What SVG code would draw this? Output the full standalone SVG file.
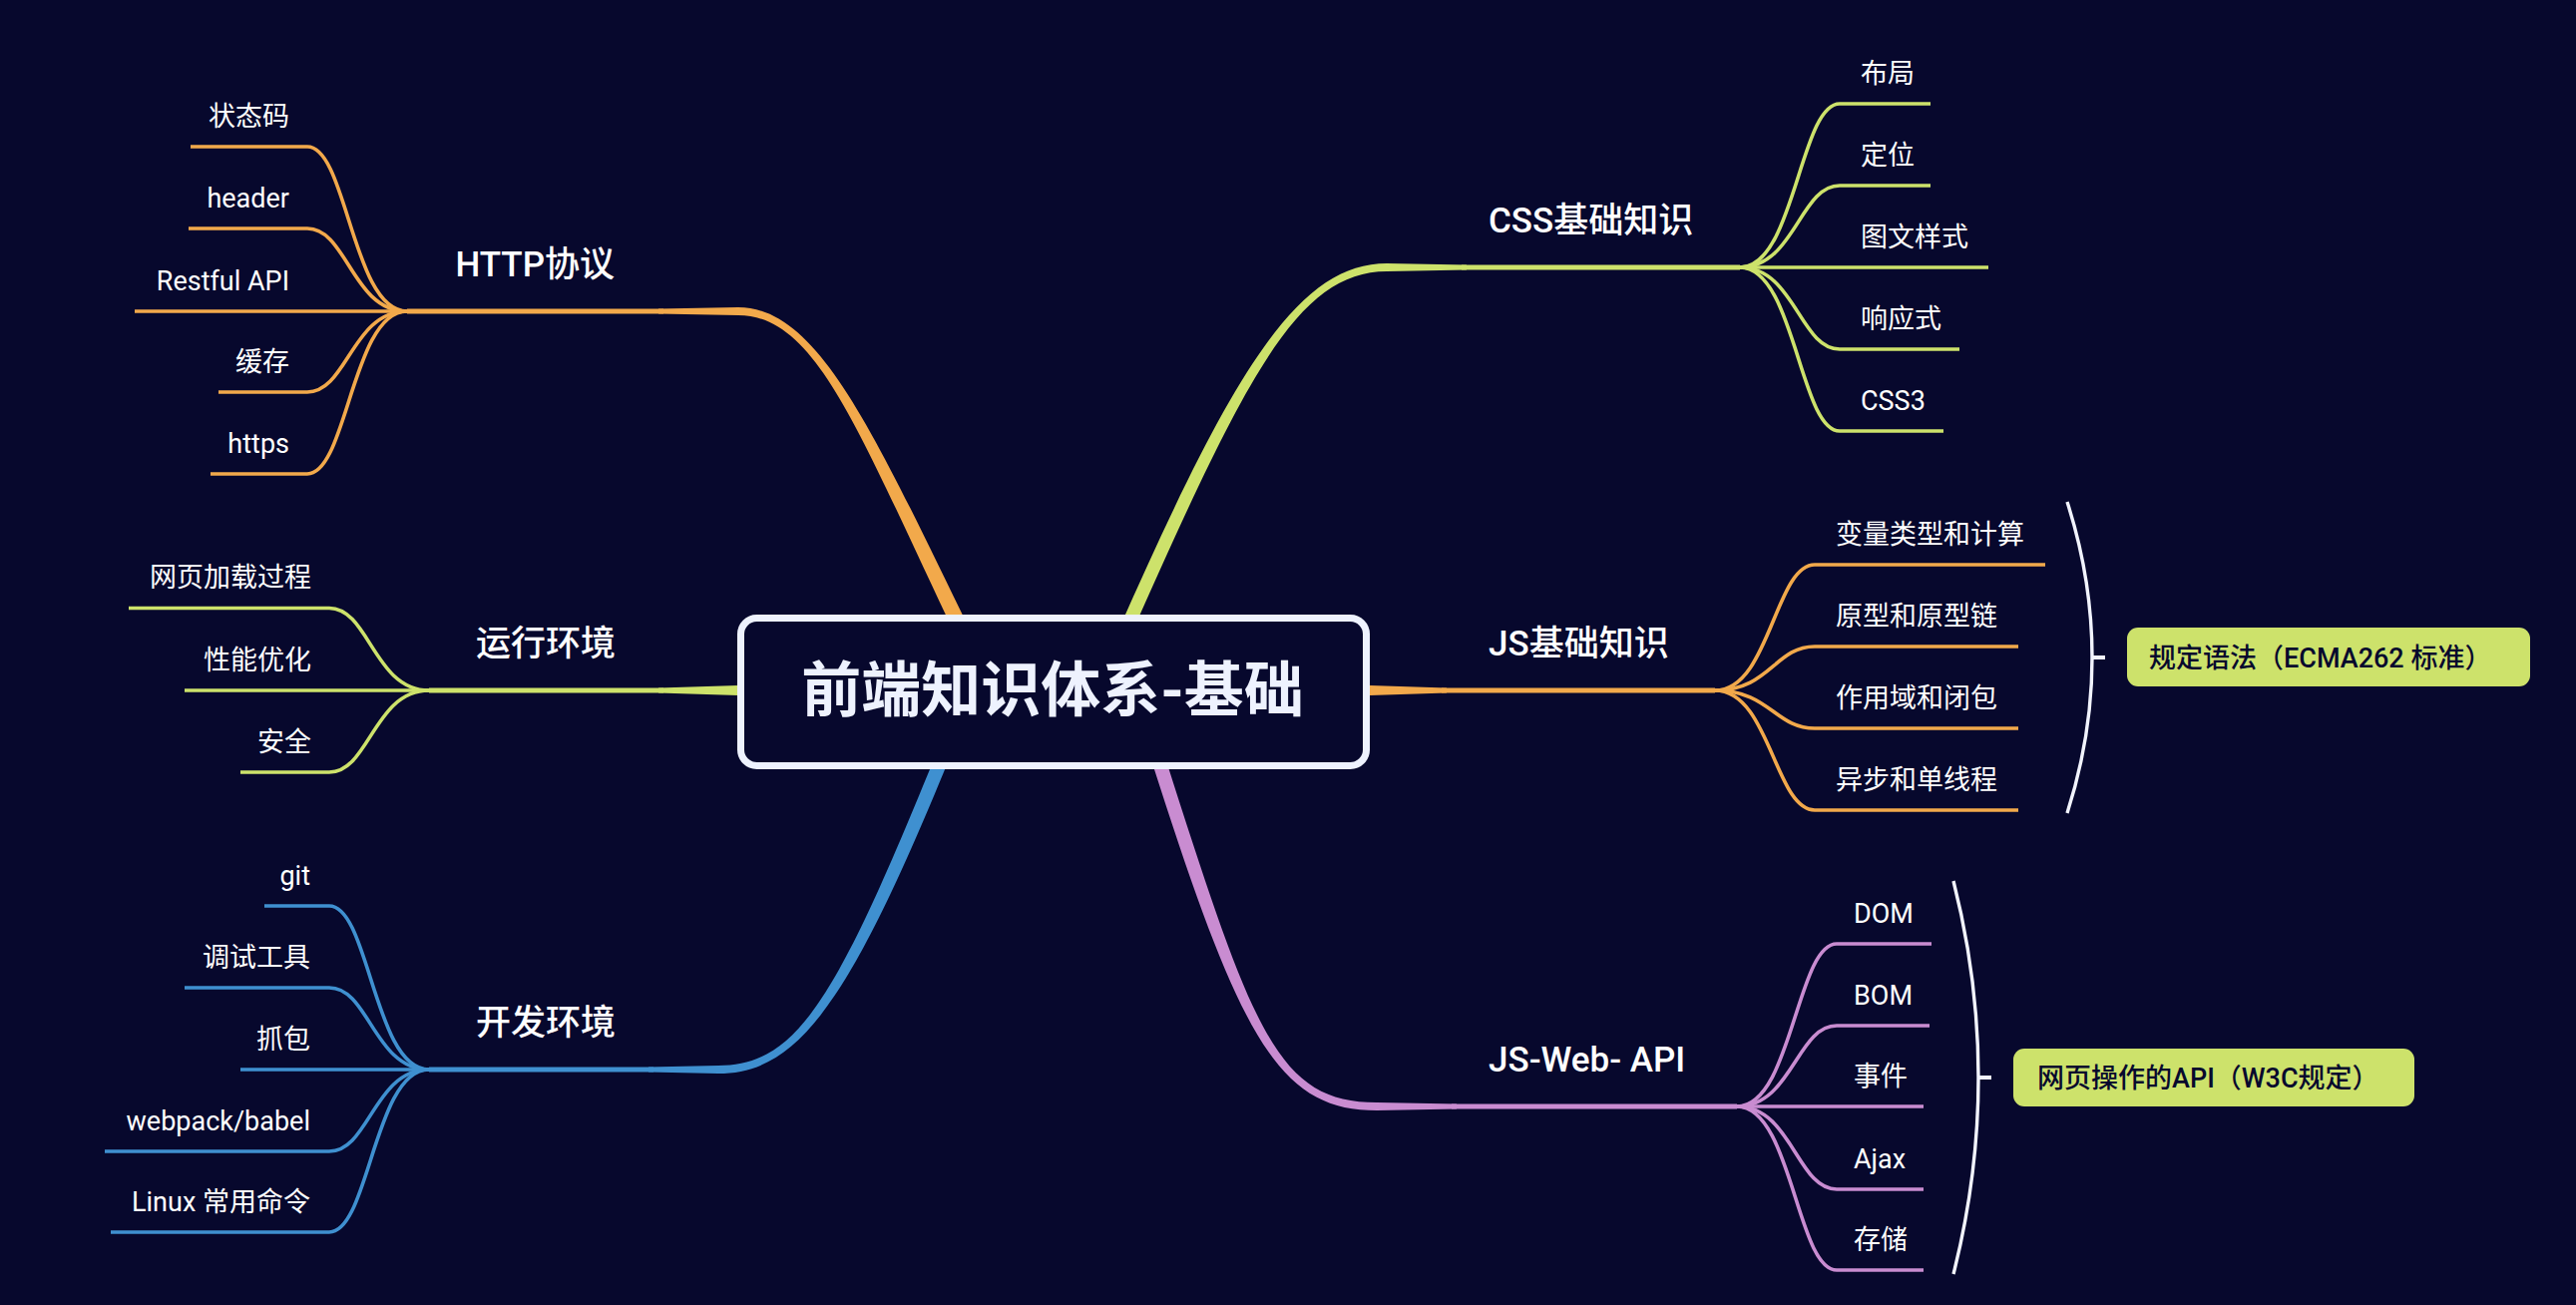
<svg xmlns="http://www.w3.org/2000/svg" width="2582" height="1308" viewBox="0 0 2582 1308">
<style>
text{font-family:Roboto,"Noto Sans CJK SC",sans-serif;}
.leaf{font-size:27px;fill:#ffffff;}
.topic{font-size:35px;font-weight:500;fill:#ffffff;}
.l{fill:none;stroke-width:3.6;stroke-linecap:butt;}
.u{fill:none;stroke-width:5;}
.or{stroke:#F2A94B;}
.lm{stroke:#CDE26B;}
.bl{stroke:#3F90D0;}
.pu{stroke:#C98CD1;}
.end{text-anchor:end;}
.sum{font-size:27px;font-weight:500;fill:#07092D;}
.brace{fill:none;stroke:#F2F4FF;stroke-width:3.4;}
</style>
<rect x="0" y="0" width="2582" height="1308" fill="#07082D"/>
<g id="connectors">
  <path fill="#F2A94B" d="M 972 631 C 875.3 432.9, 820 308, 740 308 L 660 309.5 L 660 314.5 L 740 316 C 820 316, 862.7 439.1, 958 637 Z"/>
  <path class="u or" d="M 665 312 L 408 312"/>
  <path fill="#CDE26B" d="M 750 687 L 740 687 L 660 689.5 L 660 694.5 L 740 697 L 750 697 Z"/>
  <path class="u lm" d="M 665 692 L 430 692"/>
  <path fill="#3F90D0" d="M 941 748.9 C 839.5 999.4, 800 1068, 720 1068 L 650 1069.5 L 650 1074.5 L 720 1076 C 800 1076, 852.5 1004.6, 954 754.1 Z"/>
  <path class="u bl" d="M 655 1072 L 430 1072"/>
  <path fill="#CDE26B" d="M 1132 640 C 1247.4 379.7, 1300 272, 1390 272 L 1470 270.5 L 1470 265.5 L 1390 264 C 1300 264, 1234.6 374.3, 1120 634 Z"/>
  <path class="u lm" d="M 1465 268 L 1744 268"/>
  <path fill="#F2A94B" d="M 1360 687 L 1373 687 L 1450 689.5 L 1450 694.5 L 1373 697 L 1360 697 Z"/>
  <path class="u or" d="M 1445 692 L 1719 692"/>
  <path fill="#C98CD1" d="M 1151.2 753 C 1242.3 1039.1, 1280 1113, 1380 1113 L 1460 1111.5 L 1460 1106.5 L 1380 1105 C 1280 1105, 1255.7 1034.9, 1164.6 748.8 Z"/>
  <path class="u pu" d="M 1455 1109 L 1741 1109"/>
  <path class="l or" d="M 408 312 C 353 312, 348 147, 308 147 L 191 147"/>
  <path class="l or" d="M 408 312 C 353 312, 348 229, 308 229 L 189 229"/>
  <path class="l or" d="M 408 312 L 135 312"/>
  <path class="l or" d="M 408 312 C 353 312, 348 393, 308 393 L 219 393"/>
  <path class="l or" d="M 408 312 C 353 312, 348 475, 308 475 L 211 475"/>
  <path class="l lm" d="M 430 692 C 375 692, 370 609.5, 330 609.5 L 129 609.5"/>
  <path class="l lm" d="M 430 692 L 185 692"/>
  <path class="l lm" d="M 430 692 C 375 692, 370 774, 330 774 L 241 774"/>
  <path class="l bl" d="M 430 1072 C 375 1072, 370 908, 330 908 L 265 908"/>
  <path class="l bl" d="M 430 1072 C 375 1072, 370 990, 330 990 L 185 990"/>
  <path class="l bl" d="M 430 1072 L 241 1072"/>
  <path class="l bl" d="M 430 1072 C 375 1072, 370 1154, 330 1154 L 105 1154"/>
  <path class="l bl" d="M 430 1072 C 375 1072, 370 1235, 330 1235 L 111 1235"/>
  <path class="l lm" d="M 1744 268 C 1799 268, 1804 104, 1844 104 L 1935 104"/>
  <path class="l lm" d="M 1744 268 C 1799 268, 1804 186, 1844 186 L 1935 186"/>
  <path class="l lm" d="M 1744 268 L 1993 268"/>
  <path class="l lm" d="M 1744 268 C 1799 268, 1804 350, 1844 350 L 1964 350"/>
  <path class="l lm" d="M 1744 268 C 1799 268, 1804 432, 1844 432 L 1948 432"/>
  <path class="l or" d="M 1719 692 C 1774 692, 1779 566, 1819 566 L 2050 566"/>
  <path class="l or" d="M 1719 692 C 1774 692, 1779 648, 1819 648 L 2023 648"/>
  <path class="l or" d="M 1719 692 C 1774 692, 1779 730, 1819 730 L 2023 730"/>
  <path class="l or" d="M 1719 692 C 1774 692, 1779 812, 1819 812 L 2023 812"/>
  <path class="l pu" d="M 1741 1109 C 1796 1109, 1801 946, 1841 946 L 1936 946"/>
  <path class="l pu" d="M 1741 1109 C 1796 1109, 1801 1028, 1841 1028 L 1934 1028"/>
  <path class="l pu" d="M 1741 1109 L 1928 1109"/>
  <path class="l pu" d="M 1741 1109 C 1796 1109, 1801 1192, 1841 1192 L 1928 1192"/>
  <path class="l pu" d="M 1741 1109 C 1796 1109, 1801 1273, 1841 1273 L 1928 1273"/>
  <path class="brace" d="M 2072 503 Q 2122 659 2072 815"/>
  <rect x="2096" y="657" width="14" height="4" fill="#F2F4FF"/>
  <path class="brace" d="M 1958 883 Q 2008 1080 1958 1277"/>
  <rect x="1982" y="1078" width="14" height="4" fill="#F2F4FF"/>
</g>
<g id="root">
  <rect x="742.5" y="619.5" width="627" height="148" rx="16" fill="#07082D" stroke="#EEF2FE" stroke-width="7"/>
  <text x="1055" y="713" text-anchor="middle" font-size="60" font-weight="700" fill="#EEF2FE">前端知识体系-基础</text>
</g>
<g id="topic-http"><text class="topic end" x="616" y="277">HTTP协议</text></g>
<g id="topic-runtime"><text class="topic end" x="617" y="657">运行环境</text></g>
<g id="topic-dev"><text class="topic end" x="617" y="1037">开发环境</text></g>
<g id="topic-css"><text class="topic" x="1492" y="233">CSS基础知识</text></g>
<g id="topic-js"><text class="topic" x="1492" y="657">JS基础知识</text></g>
<g id="topic-webapi"><text class="topic" x="1492" y="1074">JS-Web- API</text></g>
<g id="leaf-status"><text class="leaf end" x="290" y="126">状态码</text></g>
<g id="leaf-header"><text class="leaf end" x="290" y="208">header</text></g>
<g id="leaf-restful"><text class="leaf end" x="290" y="291">Restful API</text></g>
<g id="leaf-cache"><text class="leaf end" x="290" y="372">缓存</text></g>
<g id="leaf-https"><text class="leaf end" x="290" y="454">https</text></g>
<g id="leaf-load"><text class="leaf end" x="312" y="588">网页加载过程</text></g>
<g id="leaf-perf"><text class="leaf end" x="312" y="671">性能优化</text></g>
<g id="leaf-security"><text class="leaf end" x="312" y="753">安全</text></g>
<g id="leaf-git"><text class="leaf end" x="311" y="887">git</text></g>
<g id="leaf-debug"><text class="leaf end" x="311" y="969">调试工具</text></g>
<g id="leaf-capture"><text class="leaf end" x="311" y="1051">抓包</text></g>
<g id="leaf-webpack"><text class="leaf end" x="311" y="1133">webpack/babel</text></g>
<g id="leaf-linux"><text class="leaf end" x="311" y="1214">Linux 常用命令</text></g>
<g id="leaf-layout"><text class="leaf" x="1865" y="83">布局</text></g>
<g id="leaf-position"><text class="leaf" x="1865" y="165">定位</text></g>
<g id="leaf-textstyle"><text class="leaf" x="1865" y="247">图文样式</text></g>
<g id="leaf-responsive"><text class="leaf" x="1865" y="329">响应式</text></g>
<g id="leaf-css3"><text class="leaf" x="1865" y="411">CSS3</text></g>
<g id="leaf-types"><text class="leaf" x="1840" y="545">变量类型和计算</text></g>
<g id="leaf-proto"><text class="leaf" x="1840" y="627">原型和原型链</text></g>
<g id="leaf-scope"><text class="leaf" x="1840" y="709">作用域和闭包</text></g>
<g id="leaf-async"><text class="leaf" x="1840" y="791">异步和单线程</text></g>
<g id="leaf-dom"><text class="leaf" x="1858" y="925">DOM</text></g>
<g id="leaf-bom"><text class="leaf" x="1858" y="1007">BOM</text></g>
<g id="leaf-event"><text class="leaf" x="1858" y="1088">事件</text></g>
<g id="leaf-ajax"><text class="leaf" x="1858" y="1171">Ajax</text></g>
<g id="leaf-storage"><text class="leaf" x="1858" y="1252">存储</text></g>
<g id="summary-ecma">
  <rect x="2132" y="629" width="404" height="59" rx="11" fill="#CDE26B"/>
  <text class="sum" x="2154" y="669">规定语法（ECMA262 标准）</text>
</g>
<g id="summary-w3c">
  <rect x="2018" y="1051" width="402" height="58" rx="11" fill="#CDE26B"/>
  <text class="sum" x="2042" y="1090">网页操作的API（W3C规定）</text>
</g>
</svg>
